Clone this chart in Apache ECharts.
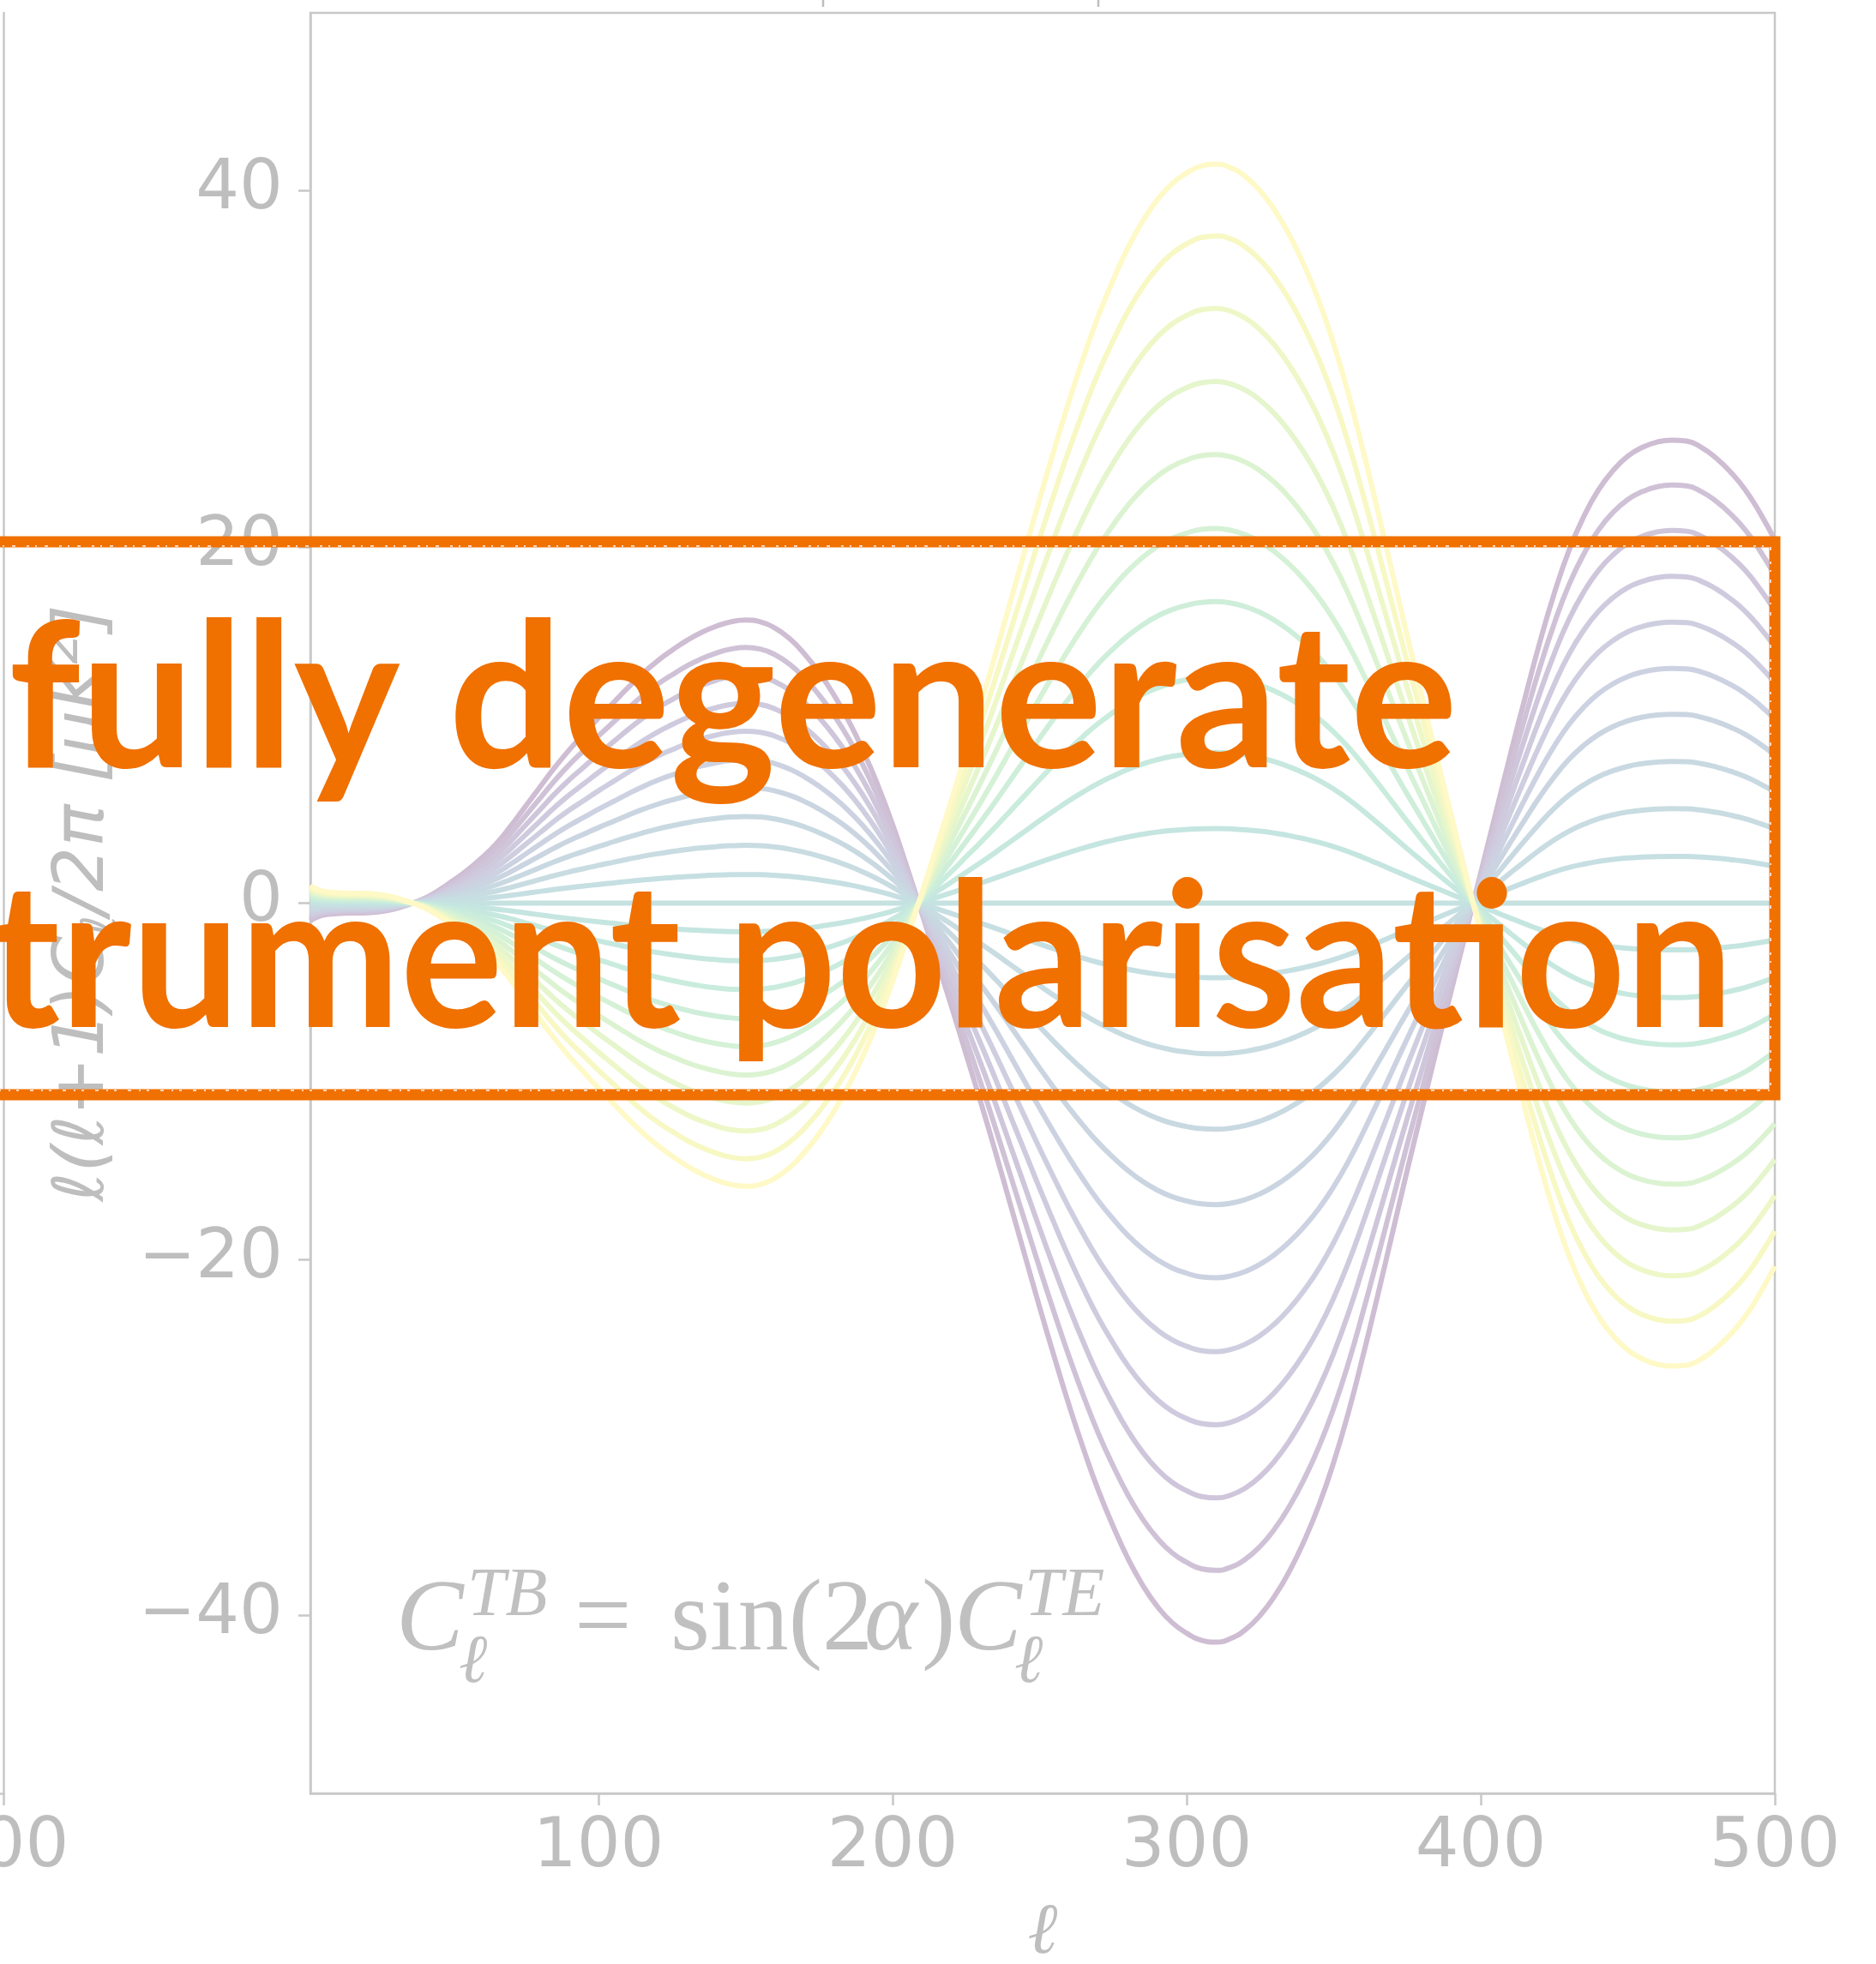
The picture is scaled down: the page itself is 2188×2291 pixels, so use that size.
<!DOCTYPE html>
<html>
<head>
<meta charset="utf-8">
<title>TB from a polarisation angle</title>
<script src="https://cdn.jsdelivr.net/npm/echarts@6/dist/echarts.min.js"></script>
<style>
  html, body { margin: 0; padding: 0; background: #fff; }
  #main { width: 2188px; height: 2291px; }
</style>
</head>
<body>
<div id="main"></div>
<script>
// multipoles where the curves were read
var ell = [2, 4, 7, 10, 15, 20, 25, 30, 35, 40, 45, 50, 55, 60, 65, 70, 75, 80, 85, 90,
  95, 100, 105, 110, 115, 120, 125, 130, 135, 140, 145, 150, 155, 160, 165, 170, 175, 180,
  185, 190, 195, 200, 205, 210, 215, 220, 225, 230, 235, 240, 245, 250, 255, 260, 265, 270,
  275, 280, 285, 290, 295, 300, 305, 310, 315, 320, 325, 330, 335, 340, 345, 350, 355, 360,
  365, 370, 375, 380, 385, 390, 395, 400, 405, 410, 415, 420, 425, 430, 435, 440, 445, 450,
  455, 460, 465, 470, 475, 480, 485, 490, 495, 500];
var dlTE = [1.0, 0.8, 0.65, 0.6, 0.55, 0.55, 0.5, 0.35, 0.1, -0.2, -0.65, -1.2, -1.8, -2.5, -3.3, -4.3,
  -5.4, -6.5, -7.6, -8.6, -9.5, -10.4, -11.25, -12.1, -12.9, -13.6, -14.2, -14.75, -15.2, -15.55,
  -15.8, -15.9, -15.8, -15.45, -14.85, -14.0, -12.95, -11.7, -10.25, -8.55, -6.6, -4.4, -1.95, 0.6,
  3.2, 5.8, 8.5, 11.2, 14.0, 16.9, 19.8, 22.7, 25.5, 28.2, 30.7, 33.0, 35.0, 36.8, 38.3, 39.5,
  40.4, 41.0, 41.4, 41.5, 41.3, 40.8, 40.0, 38.9, 37.5, 35.8, 33.8, 31.4, 28.6, 25.4, 22.0, 18.5,
  15.0, 11.6, 8.2, 4.9, 1.6, -1.7, -5.0, -8.3, -11.5, -14.6, -17.4, -19.8, -21.7, -23.2, -24.3,
  -25.1, -25.6, -25.9, -26.0, -25.95, -25.6, -25.0, -24.2, -23.2, -21.9, -20.4];
// sin(2 alpha) of each curve, purple to yellow
var sin2a = [-1, -0.903, -0.805, -0.706, -0.607, -0.507, -0.408, -0.306, -0.204, -0.101, 0,
  0.101, 0.204, 0.306, 0.408, 0.507, 0.607, 0.706, 0.805, 0.903, 1];
var viridis = ['#440154', '#471365', '#482475', '#463480', '#414487', '#3b528b', '#355f8d',
  '#2f6c8e', '#2a788e', '#25848e', '#21918c', '#1e9c89', '#22a884', '#2fb47c', '#44bf70',
  '#5ec962', '#7ad151', '#9bd93c', '#bddf26', '#dfe318', '#fde725'];
var xTicks = [100, 200, 300, 400, 500];
var yTicks = [-40, -20, 0, 20, 40];

var grey = '#c8c8c8';
var labelGrey = '#bebebe';
var orange = '#f07000';

var chart = echarts.init(document.getElementById('main'));

function minus(v) { return String(v).replace('-', '\u2212'); }

// the whole figure sits faded on the slide: mix colours with white
function fade(hex, a) {
  var n = parseInt(hex.slice(1), 16);
  var rgb = [(n >> 16) & 255, (n >> 8) & 255, n & 255].map(function (c) {
    return Math.round(255 - a * (255 - c));
  });
  return 'rgb(' + rgb.join(',') + ')';
}

// width of a string in a given css font, to fit the slide text
var ctx = document.createElement('canvas').getContext('2d');
function textWidth(txt, font) { ctx.font = font; return ctx.measureText(txt).width; }

var bigSize = 236;
var bigFont = 'bold ' + bigSize + 'px Lato';
var scale1 = 1690 / textWidth('fully degenerate', bigFont);
var scale2 = 2035 / textWidth('trument polarisation', bigFont);
var midOff = 0.315 * bigSize;

var series = sin2a.map(function (f, i) {
  return {
    type: 'line',
    xAxisIndex: 0,
    yAxisIndex: 0,
    data: ell.map(function (l, j) { return [l, +(f * dlTE[j]).toFixed(3)]; }),
    showSymbol: false,
    smooth: 0.5,
    silent: true,
    lineStyle: { width: 6, color: fade(viridis[i], 0.26) }
  };
});

function serifText(txt, x, baseline, size, italic) {
  return {
    type: 'text', x: x, y: baseline - 0.3375 * size, z: 50, silent: true,
    style: {
      text: txt, x: 0, y: 0,
      font: (italic ? 'italic ' : '') + size + 'px "Liberation Serif", "DejaVu Serif"',
      fill: '#c0c0c0', textAlign: 'left', align: 'left',
      textVerticalAlign: 'middle', verticalAlign: 'middle'
    }
  };
}

var option = {
  backgroundColor: '#fff',
  animation: false,
  grid: [
    { left: 362, right: 118, top: 15, bottom: 199, show: true, borderColor: grey, borderWidth: 2.5, outerBoundsMode: 'none' },
    // right edge of the neighbouring panel
    { left: 0, width: 4, top: 15, bottom: 199, show: false, outerBoundsMode: 'none' }
  ],
  xAxis: [
    {
      type: 'value', gridIndex: 0, min: 2, max: 500,
      name: '\u2113', nameLocation: 'middle', nameGap: 122,
      nameTextStyle: { fontFamily: 'DejaVu Serif', fontStyle: 'italic', fontSize: 84, color: labelGrey },
      axisLine: { show: true, onZero: false, lineStyle: { color: grey, width: 2.5 } },
      axisTick: { show: true, length: 14, customValues: xTicks, lineStyle: { color: grey, width: 2.5 } },
      axisLabel: { customValues: xTicks, margin: 24, fontFamily: 'DejaVu Sans', fontSize: 80, color: labelGrey },
      splitLine: { show: false }
    },
    {
      type: 'value', gridIndex: 1, min: 0, max: 500,
      axisLine: { show: true, onZero: false, lineStyle: { color: grey, width: 2.5 } },
      axisTick: { show: true, length: 14, customValues: [500], lineStyle: { color: grey, width: 2.5 } },
      axisLabel: { customValues: [500], margin: 24, fontFamily: 'DejaVu Sans', fontSize: 80, color: labelGrey },
      splitLine: { show: false }
    }
  ],
  yAxis: [
    {
      type: 'value', gridIndex: 0, min: -50, max: 50,
      name: '{a|\u2113(\u2113+1)C}{b|\u2113}{a|/2\u03c0 [\u03bcK}{c|2}{a|]}',
      nameLocation: 'middle', nameRotate: 90, nameGap: 206,
      nameTextStyle: {
        color: labelGrey,
        rich: {
          a: { fontFamily: 'DejaVu Sans', fontStyle: 'italic', fontSize: 82, lineHeight: 104, color: labelGrey },
          b: { fontFamily: 'DejaVu Sans', fontStyle: 'italic', fontSize: 58, lineHeight: 58, verticalAlign: 'bottom', color: labelGrey },
          c: { fontFamily: 'DejaVu Sans', fontStyle: 'italic', fontSize: 58, lineHeight: 58, verticalAlign: 'top', color: labelGrey }
        }
      },
      axisLine: { show: true, onZero: false, lineStyle: { color: grey, width: 2.5 } },
      axisTick: { show: true, length: 14, customValues: yTicks, lineStyle: { color: grey, width: 2.5 } },
      axisLabel: { customValues: yTicks, margin: 32, fontFamily: 'DejaVu Sans', fontSize: 80, color: labelGrey, formatter: minus },
      splitLine: { show: false }
    },
    {
      type: 'value', gridIndex: 1, min: -50, max: 50, position: 'right',
      axisLine: { show: true, onZero: false, lineStyle: { color: grey, width: 2.5 } },
      axisTick: { show: false },
      axisLabel: { show: false },
      splitLine: { show: false }
    }
  ],
  series: series,
  graphic: [
    // bits of the panel above
    { type: 'line', shape: { x1: 960, y1: 0, x2: 960, y2: 8 }, style: { stroke: labelGrey, lineWidth: 2.5 }, silent: true },
    { type: 'line', shape: { x1: 1281, y1: 0, x2: 1281, y2: 8 }, style: { stroke: labelGrey, lineWidth: 2.5 }, silent: true },

    // formula
    serifText('C', 462, 1933, 118, true),
    serifText('TB', 545, 1890, 80, true),
    serifText('\u2113', 535, 1968, 80, true),
    serifText('=', 670, 1933, 118, false),
    serifText('sin(2', 782, 1933, 118, false),
    serifText('\u03b1', 1008, 1933, 118, true),
    serifText(')', 1075, 1933, 118, false),
    serifText('C', 1113, 1933, 118, true),
    serifText('TE', 1195, 1890, 80, true),
    serifText('\u2113', 1183, 1968, 80, true),

    // slide overlay
    {
      type: 'rect', z: 100, silent: true,
      shape: { x: -40, y: 632, width: 2110, height: 645 },
      style: { fill: 'none', stroke: orange, lineWidth: 13, lineJoin: 'miter' }
    },
    {
      type: 'rect', z: 101, silent: true,
      shape: { x: -35, y: 637, width: 2100, height: 635 },
      style: { fill: 'none', stroke: '#fff', lineWidth: 2, opacity: 0.7, lineDash: [2, 9, 4, 13, 3, 7] }
    },
    {
      type: 'text', z: 102, silent: true, x: 10, y: 893 - midOff, scaleX: scale1,
      style: {
        text: 'fully degenerate', x: 0, y: 0, font: bigFont, fill: orange,
        textAlign: 'left', align: 'left', textVerticalAlign: 'middle', verticalAlign: 'middle'
      }
    },
    {
      type: 'text', z: 102, silent: true, x: 2022, y: 1196 - midOff, scaleX: scale2,
      style: {
        text: 'instrument polarisation', x: 0, y: 0, font: bigFont, fill: orange,
        textAlign: 'right', align: 'right', textVerticalAlign: 'middle', verticalAlign: 'middle'
      }
    }
  ]
};

chart.setOption(option);
</script>
</body>
</html>
